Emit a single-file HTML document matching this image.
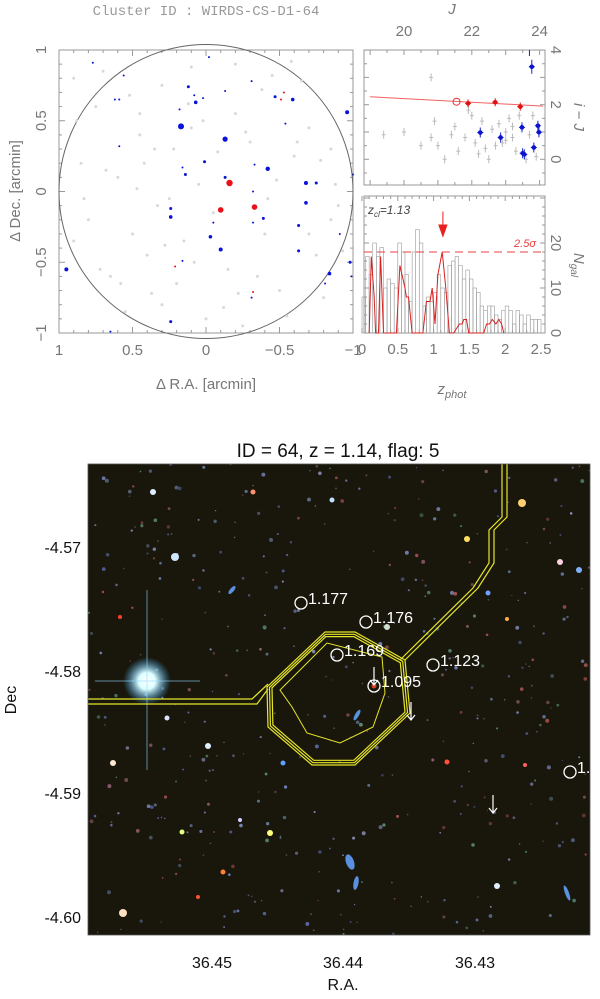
<!DOCTYPE html>
<html><head><meta charset="utf-8">
<style>
body{margin:0;background:#fff;width:600px;height:999px;overflow:hidden;}
svg{position:absolute;left:0;top:0;}
.ax{font-family:"Liberation Sans",sans-serif;fill:#777;font-size:15px;}
.bk{font-family:"Liberation Sans",sans-serif;fill:#111;}
</style></head>
<body>
<svg id="fig" width="600" height="999" viewBox="0 0 600 999">
<text x="206" y="15" text-anchor="middle" font-family="Liberation Mono,monospace" font-size="14" fill="#999">Cluster ID : WIRDS-CS-D1-64</text>
<g id="sky"></g>
<g id="cmd"></g>
<g id="hist"></g>
<text x="338" y="457" text-anchor="middle" class="bk" font-size="19">ID = 64, z = 1.14, flag: 5</text>
<g id="img"></g>
</svg>
<script>
// ---- sky map data (arcmin)
const blueRA=[0.77,0.56,-0.02,0.12,0.08,0.07,0.02,-0.13,-0.31,-0.47,-0.59,-0.96,0.18,0.17,-0.54,-0.13,0.59,0.01,0.16,0.14,-0.42,-0.33,-0.13,-0.68,-0.75,-1.0,-0.32,-0.68,0.24,0.24,-0.39,-0.05,-0.32,-0.63,-0.03,-0.10,-0.63,-0.91,0.16,-0.98,0.95,-0.84,-0.81,-0.31,0.24,0.65,-0.99,0.62,0.59];
const blueDec=[0.91,0.82,0.95,0.74,0.68,0.63,0.66,0.71,0.78,0.67,0.65,0.56,0.58,0.46,0.48,0.37,0.32,0.21,0.17,0.12,0.16,0.19,0.10,0.06,0.06,0.12,0.0,-0.08,-0.12,-0.18,-0.19,-0.22,-0.22,-0.24,-0.32,-0.41,-0.42,-0.30,-0.49,-0.50,-0.55,-0.58,-0.65,-0.75,-0.92,-0.99,-0.60,0.65,0.65];
const blueSize=[1,1,1,1.5,1,1.8,1,1,1,1.5,1.8,2,1,3,1,2.6,1,1.5,1,1.5,2.2,1,1.5,2,1.5,1,1,1.8,1.5,1.8,1.5,1,1,1.5,1.8,2,1.5,1,1,1.5,2,1.8,1,1,1.5,1,1,1,1];
const redRA=[-0.16,-0.10,-0.33,-0.53,-0.51,0.21,-0.32];
const redDec=[0.06,-0.13,-0.11,0.70,0.65,-0.53,-0.71];
const redSize=[3.2,2.8,2.8,1,1,1,1];
const grayRA=[0.9,0.7,0.45,0.3,0.1,-0.2,-0.45,-0.7,-0.85,0.85,0.6,0.35,0.05,-0.3,-0.6,-0.9,0.8,0.5,0.25,-0.05,-0.4,-0.75,0.65,0.4,0.2,-0.15,-0.5,-0.8,0.9,0.55,0.3,0.0,-0.25,-0.55,-0.85,0.75,0.45,0.1,-0.2,-0.65,0.15,-0.42,0.02,0.37,-0.58,0.88,0.68,0.42,0.28,-0.08,-0.35,-0.62,-0.88,0.72,0.52,0.33,0.12,-0.22,-0.48,-0.78,0.83,0.58,0.22,-0.12,-0.38,-0.7,-0.93,0.47,0.08,-0.27];
const grayDec=[0.8,0.85,0.55,0.75,0.88,0.9,0.82,0.45,0.3,0.2,0.1,0.3,0.05,0.35,0.25,-0.1,-0.2,-0.3,-0.05,-0.15,-0.3,-0.45,-0.6,-0.45,-0.65,-0.55,-0.7,-0.75,-0.35,-0.85,-0.8,-0.9,-0.95,-0.88,-0.2,0.6,0.4,0.45,0.55,0.78,-0.35,-0.05,0.5,-0.72,0.92,0.5,0.15,0.2,-0.38,0.28,-0.6,0.35,0.05,-0.55,0.68,-0.1,0.62,-0.72,0.08,0.22,-0.05,-0.65,0.3,-0.82,0.72,-0.3,-0.42,0.02,-0.5,0.42];
const skyTicks=[1,0.5,0,-0.5,-1];
// ---- CMD data
const cmdRedJ=[21.89,22.69,23.43], cmdRedC=[2.05,2.09,1.93];
const cmdOpenJ=[21.55], cmdOpenC=[2.11];
const cmdBlueJ=[23.77,22.25,22.85,23.48,23.95,23.98,23.83,23.5,23.55];
const cmdBlueC=[3.39,0.98,0.80,1.17,1.23,0.99,0.43,0.22,0.18];
const cmdGrayJ=[19.4,20.0,20.5,20.8,20.9,21.0,21.2,21.4,21.5,21.6,21.8,22.0,22.1,22.3,22.5,22.6,22.7,22.8,22.9,23.0,23.1,23.2,23.3,23.4,23.6,23.7,23.8,23.9,23.2,22.4,21.9,20.8,23.0,22.2];
const cmdGrayC=[0.9,1.0,0.5,3.0,1.4,0.5,0.0,0.9,1.2,0.3,0.8,1.6,0.6,1.4,0.0,1.1,0.5,1.3,0.6,1.0,1.5,0.8,0.3,1.6,0.0,0.9,1.6,0.1,1.2,0.4,1.8,0.8,0.7,0.2];
const redSeqJ=[19.0,24.1], redSeqC=[2.29,1.95];
const cmdJTicks=[20,22,24], cmdCTicks=[0,2,4];
// ---- histogram data
const histCounts=[8,17,13,20,17,19,10,12,11,10,20,18,13,7,18,23,20,6,8,7,9,13,10,9,15,16,17,15,12,14,12,10,9,6,5,6,6,4,3,5,6,5,2,5,4,2,4,3,3,3];
const binWidth=0.05;
const sigZ=[0.10,0.13,0.17,0.19,0.23,0.26,0.30,0.48,0.53,0.60,0.62,0.65,0.70,0.85,0.90,0.95,0.98,1.02,1.06,1.12,1.17,1.22,1.28,1.32,1.36,1.40,1.42,1.46,1.49,1.70,1.74,1.78,1.82,1.87,1.91,1.95,1.98];
const sigN=[0,17,8,0,0,17,0,0,15,10,8,8,0,0,7,7,10,2,13,18,10,0,0,1,2,2,3,3,0,0,2,2,3,2,3,2,0];
const threshold=[18];
const zCl=[1.13];
const histZTicks=[0,0.5,1,1.5,2,2.5], histZLabels=["0","0.5","1","1.5","2","2.5"], histNTicks=[0,10,20];

const NS="http://www.w3.org/2000/svg";
function mk(p,t,a){const e=document.createElementNS(NS,t);for(const k in a)e.setAttribute(k,a[k]);p.appendChild(e);return e;}

// ===== sky panel
const sky=document.getElementById('sky');
const sx=r=>206-r*147, sy=d=>191.5-d*141.5;
let b=mk(sky,'rect',{x:59,y:50,width:294,height:283,fill:'none',stroke:'#999'});

for(let v=-1;v<=1.001;v+=0.1){const big=Math.abs(v*2-Math.round(v*2))<1e-6;const L=big?6:3;
 mk(sky,'line',{x1:sx(v),x2:sx(v),y1:50,y2:50+L,stroke:'#999'});mk(sky,'line',{x1:sx(v),x2:sx(v),y1:333,y2:333-L,stroke:'#999'});
 mk(sky,'line',{y1:sy(v),y2:sy(v),x1:59,x2:59+L,stroke:'#999'});mk(sky,'line',{y1:sy(v),y2:sy(v),x1:353,x2:353-L,stroke:'#999'});}
let c=mk(sky,'circle',{cx:sx(0),cy:sy(0),r:147,fill:'none',stroke:'#666'});

grayRA.forEach((r,i)=>{const e=mk(sky,'circle',{cx:sx(r),cy:sy(grayDec[i]),r:1.5,fill:'#d8d8d8'});
 });
blueRA.forEach((r,i)=>{const e=mk(sky,'circle',{cx:sx(r),cy:sy(blueDec[i]),r:blueSize[i],fill:'#0a14d8'});
 });
redRA.forEach((r,i)=>{const e=mk(sky,'circle',{cx:sx(r),cy:sy(redDec[i]),r:redSize[i],fill:'#e8101a'});
 });
skyTicks.forEach(v=>{const lab=v<0?'\u2212'+(-v):String(v);
 let t=mk(sky,'text',{x:sx(v),y:355,'text-anchor':'middle',class:'ax'});t.textContent=lab;
 
 t=mk(sky,'text',{x:0,y:0,'text-anchor':'middle',class:'ax',transform:`translate(46,${sy(v)}) rotate(-90)`});t.textContent=lab;
 });
let t=mk(sky,'text',{x:206,y:389,'text-anchor':'middle',class:'ax'});t.textContent='\u0394 R.A. [arcmin]';

t=mk(sky,'text',{x:0,y:0,'text-anchor':'middle',class:'ax',transform:'translate(20,191) rotate(-90)'});t.textContent='\u0394 Dec. [arcmin]';


// ===== CMD
const cmd=document.getElementById('cmd');
const cx=j=>404+(j-20)*33.9, cy=v=>159.3-v*27.3;
b=mk(cmd,'rect',{x:364,y:50,width:181,height:135,fill:'none',stroke:'#999'});

for(let j=19;j<=24.3;j+=0.5){const x=cx(j);if(x<364||x>545)continue;const L=(j%1===0)?5:3;
 mk(cmd,'line',{x1:x,x2:x,y1:50,y2:50+L,stroke:'#999'});mk(cmd,'line',{x1:x,x2:x,y1:185,y2:185-L,stroke:'#999'});}
for(let v=-0.5;v<=4;v+=0.5){const y=cy(v);if(y<50||y>185)continue;const L=(v%1===0)?5:3;
 mk(cmd,'line',{x1:364,x2:364+L,y1:y,y2:y,stroke:'#999'});mk(cmd,'line',{x1:545,x2:545-L,y1:y,y2:y,stroke:'#999'});}
cmdGrayJ.forEach((j,i)=>{const x=cx(j),y=cy(cmdGrayC[i]);
 const e=mk(cmd,'path',{d:`M${x-2},${y}H${x+2}M${x},${y-4}V${y+4}`,stroke:'#bbb','stroke-width':1});
 });
let ln=mk(cmd,'line',{x1:cx(redSeqJ[0]),y1:cy(redSeqC[0]),x2:cx(redSeqJ[1]),y2:cy(redSeqC[1]),stroke:'#f06060'});

cmdOpenJ.forEach((j,i)=>{const e=mk(cmd,'circle',{cx:cx(j),cy:cy(cmdOpenC[i]),r:3.5,fill:'none',stroke:'#e83030'});
 });
cmdRedJ.forEach((j,i)=>{const x=cx(j),y=cy(cmdRedC[i]);mk(cmd,'path',{d:`M${x-3},${y}H${x+3}M${x},${y-4}V${y+4}`,stroke:'#e01010'});
 const e=mk(cmd,'circle',{cx:x,cy:y,r:2.3,fill:'#e01010'});});
cmdBlueJ.forEach((j,i)=>{const x=cx(j),y=cy(cmdBlueC[i]);const eb=i===0?7:5;
 mk(cmd,'path',{d:`M${x-3},${y}H${x+3}M${x},${y-eb}V${y+eb}`,stroke:'#1020d0'});
 const e=mk(cmd,'circle',{cx:x,cy:y,r:2.3,fill:'#0a14d0'});});
mk(cmd,'line',{x1:cx(23.7),x2:cx(23.7),y1:50,y2:56,stroke:'#1020d0'});
cmdJTicks.forEach(j=>{const e=mk(cmd,'text',{x:cx(j),y:36,'text-anchor':'middle',class:'ax'});e.textContent=j;
 });
t=mk(cmd,'text',{x:452,y:14,'text-anchor':'middle',class:'ax','font-style':'italic','font-family':'Liberation Serif,serif'});t.textContent='J';

cmdCTicks.forEach(v=>{const e=mk(cmd,'text',{x:0,y:0,'text-anchor':'middle',class:'ax',transform:`translate(551,${cy(v)}) rotate(90)`});e.textContent=v;
 });
t=mk(cmd,'text',{x:0,y:0,'text-anchor':'middle',class:'ax','font-style':'italic','font-family':'Liberation Serif,serif',transform:'translate(574,117) rotate(90)'});t.textContent='i \u2212 J';


// ===== histogram
const hist=document.getElementById('hist');
const hx=z=>362+z*71.6, hy=n=>333-n*4.5;
b=mk(hist,'rect',{x:364,y:196,width:181,height:137,fill:'none',stroke:'#999'});

for(let z=0;z<=2.5;z+=0.1){const x=hx(z);const L=(Math.abs(z*2-Math.round(z*2))<1e-6)?5:3;
 mk(hist,'line',{x1:x,x2:x,y1:196,y2:196+L,stroke:'#999'});mk(hist,'line',{x1:x,x2:x,y1:333,y2:333-L,stroke:'#999'});}
for(let n=0;n<=30;n+=2){const y=hy(n);if(y<196)continue;const L=n%10===0?5:3;
 mk(hist,'line',{x1:364,x2:364+L,y1:y,y2:y,stroke:'#999'});mk(hist,'line',{x1:545,x2:545-L,y1:y,y2:y,stroke:'#999'});}
histCounts.forEach((n,i)=>{const x0=hx(i*binWidth),x1=hx((i+1)*binWidth);
 const e=mk(hist,'rect',{x:x0,y:hy(n),width:x1-x0,height:hy(0)-hy(n),fill:'none',stroke:'#9a9a9a','stroke-width':0.6});
 });
let d='';sigZ.forEach((z,i)=>{d+=(i?'L':'M')+hx(z).toFixed(1)+','+hy(sigN[i]).toFixed(1);});
let p=mk(hist,'path',{d:d,fill:'none',stroke:'#d82020','stroke-width':1});

ln=mk(hist,'line',{x1:364,x2:545,y1:hy(threshold[0]),y2:hy(threshold[0]),stroke:'#e84040','stroke-dasharray':'8,5'});

t=mk(hist,'text',{x:525,y:hy(threshold[0])-5,'text-anchor':'middle',fill:'#e84040','font-size':11,'font-family':'Liberation Sans,sans-serif','font-style':'italic'});t.textContent='2.5\u03c3';

const ax=hx(zCl[0]);
p=mk(hist,'path',{d:`M${ax},${hy(27)}V${hy(22)}M${ax-4},${hy(24)}L${ax},${hy(21.5)}L${ax+4},${hy(24)}Z`,stroke:'#e82020',fill:'#e82020'});

t=mk(hist,'text',{x:368,y:214,fill:'#444','font-size':12,'font-family':'Liberation Sans,sans-serif','font-style':'italic'});
t.innerHTML='z<tspan font-size="8" dy="3">cl</tspan><tspan dy="-3">=1.13</tspan>';

histZTicks.forEach((z,i)=>{const e=mk(hist,'text',{x:hx(z),y:354,'text-anchor':'middle',class:'ax'});e.textContent=histZLabels[i];
 });
histNTicks.forEach(n=>{const e=mk(hist,'text',{x:0,y:0,'text-anchor':'middle',class:'ax',transform:`translate(551,${hy(n)}) rotate(90)`});e.textContent=n;
 });
t=mk(hist,'text',{x:0,y:0,'text-anchor':'middle',class:'ax','font-style':'italic','font-family':'Liberation Serif,serif',transform:'translate(574,265) rotate(90)'});
t.innerHTML='N<tspan font-size="10" dy="3">gal</tspan>';

t=mk(hist,'text',{x:452,y:394,'text-anchor':'middle',class:'ax','font-style':'italic','font-family':'Liberation Serif,serif','font-size':17});
t.innerHTML='z<tspan font-size="11" dy="4">phot</tspan>';


// ===== color image
const img=document.getElementById('img');
const defs=mk(img,'defs',{});
const cp=mk(defs,'clipPath',{id:'clipimg'});mk(cp,'rect',{x:88,y:464,width:502,height:471});
const gr=mk(defs,'radialGradient',{id:'glow'});mk(gr,'stop',{offset:'0','stop-color':'#fff'});mk(gr,'stop',{offset:'0.35','stop-color':'#dff'});mk(gr,'stop',{offset:'1','stop-color':'#3af','stop-opacity':'0'});
const g=mk(img,'g',{'clip-path':'url(#clipimg)'});
b=mk(g,'rect',{x:88,y:464,width:502,height:471,fill:'#19170b'});

let s=7;const rnd=()=>{s=(s*9301+49297)%233280;return s/233280;};
const cols=['#5a6aa8','#7080b8','#8a5a6a','#6a7aa0','#a05050','#5a8a7a','#8890c0'];
for(let i=0;i<420;i++){mk(g,'circle',{cx:88+rnd()*502,cy:464+rnd()*471,r:0.6+rnd()*1.4,fill:cols[Math.floor(rnd()*cols.length)],opacity:0.5+rnd()*0.5});}
const stars=[[147,681,6,'#fff'],[175,557,4,'#cfe6ff'],[153,492,3,'#e0eeff'],[522,503,4,'#ffcf70'],[467,539,3,'#ffe060'],[560,562,3,'#ffd0e0'],[579,570,3,'#80b0ff'],[488,593,2.5,'#70a0ff'],[507,619,2,'#ffb040'],[113,763,3,'#ffe8d0'],[208,746,3,'#e0f0ff'],[283,763,2.5,'#60a0ff'],[447,762,2.5,'#ff5040'],[270,833,3,'#ffff80'],[182,832,2.5,'#e0ff80'],[497,886,3,'#e0f0ff'],[123,913,4,'#ffe0c0'],[387,627,3,'#d0e0d0'],[167,718,2.5,'#e0e0ff'],[253,492,2.5,'#ff9070'],[332,500,2.5,'#c0e0ff'],[223,872,2.5,'#ff8030'],[198,897,2,'#ff5030'],[374,686,2.5,'#d04020'],[240,820,2,'#d0d0ff'],[120,617,2,'#ff4030'],[525,765,2,'#ff6060']];
stars.forEach(a=>{const e=mk(g,'circle',{cx:a[0],cy:a[1],r:a[2],fill:a[3]});});
mk(g,'circle',{cx:147,cy:681,r:24,fill:'url(#glow)'});
mk(g,'path',{d:'M147,590V770M95,681H200',stroke:'#8fd8ff','stroke-width':1,opacity:0.6});
[[350,862,4,8,-20],[356,883,2.5,7,10],[567,893,2,8,-20],[357,715,2,6,30],[232,590,2,5,40]].forEach(a=>{
 mk(g,'ellipse',{cx:a[0],cy:a[1],rx:a[2],ry:a[3],fill:'#5a90e0',transform:`rotate(${a[4]} ${a[0]} ${a[1]})`});});
const Y='#e6e62a';
[0,5].forEach(o=>{mk(g,'path',{d:`M88,${699+o}H${252+o}L${268},${684+o}`,fill:'none',stroke:Y,'stroke-width':1.2});});
const oct=[[325,632],[355,632],[405,660],[410,713],[355,765],[312,765],[268,727],[267,687]];
[1,0.965,0.93].forEach(f=>{let dd='';oct.forEach((q,i)=>{dd+=(i?'L':'M')+(338+(q[0]-338)*f).toFixed(1)+','+(698+(q[1]-698)*f).toFixed(1);});
 const e=mk(g,'path',{d:dd+'Z',fill:'none',stroke:Y,'stroke-width':1.2});});
[0,5].forEach(o=>{mk(g,'path',{d:`M${400+o},${660}L${473+o},${588}L${489+o},${563}V${530}L${502+o},${517}V460`,fill:'none',stroke:Y,'stroke-width':1.2});});
p=mk(g,'path',{d:'M280,690L327,643L382,657L385,693L373,727L340,743L307,733L292,707Z',fill:'none',stroke:Y,'stroke-width':1});

const lbl=[[301,603,'1.177'],[366,622,'1.176'],[337,655,'1.169'],[433,665,'1.123'],[374,686,'1.095'],[570,772,'1.1']];
lbl.forEach(a=>{const e=mk(g,'circle',{cx:a[0],cy:a[1],r:6,fill:'none',stroke:'#fff','stroke-width':1.3});
 
 const tt=mk(g,'text',{x:a[0]+7,y:a[1]+1,fill:'#fff','font-size':16,'font-family':'Liberation Sans,sans-serif'});tt.textContent=a[2];
 });
[[374,667,685],[411,702,720],[493,795,813]].forEach(a=>{const e=mk(g,'path',{d:`M${a[0]},${a[1]}V${a[2]}M${a[0]-4},${a[2]-5}L${a[0]},${a[2]}L${a[0]+4},${a[2]-5}`,stroke:'#fff',fill:'none','stroke-width':1.2});
 });
mk(img,'rect',{x:88,y:464,width:502,height:471,fill:'none',stroke:'#555','stroke-width':0.8});
[['-4.57',547],['-4.58',671],['-4.59',793],['-4.60',917]].forEach(a=>{const e=mk(img,'text',{x:81,y:a[1]+6,'text-anchor':'end',class:'bk','font-size':16});e.textContent=a[0];
 });
[['36.45',212],['36.44',343],['36.43',475]].forEach(a=>{const e=mk(img,'text',{x:a[1],y:968,'text-anchor':'middle',class:'bk','font-size':16});e.textContent=a[0];
 });
t=mk(img,'text',{x:343,y:990,'text-anchor':'middle',class:'bk','font-size':16});t.textContent='R.A.';

t=mk(img,'text',{x:0,y:0,'text-anchor':'middle',class:'bk','font-size':16,transform:'translate(16,700) rotate(-90)'});t.textContent='Dec';

</script>
</body></html>
